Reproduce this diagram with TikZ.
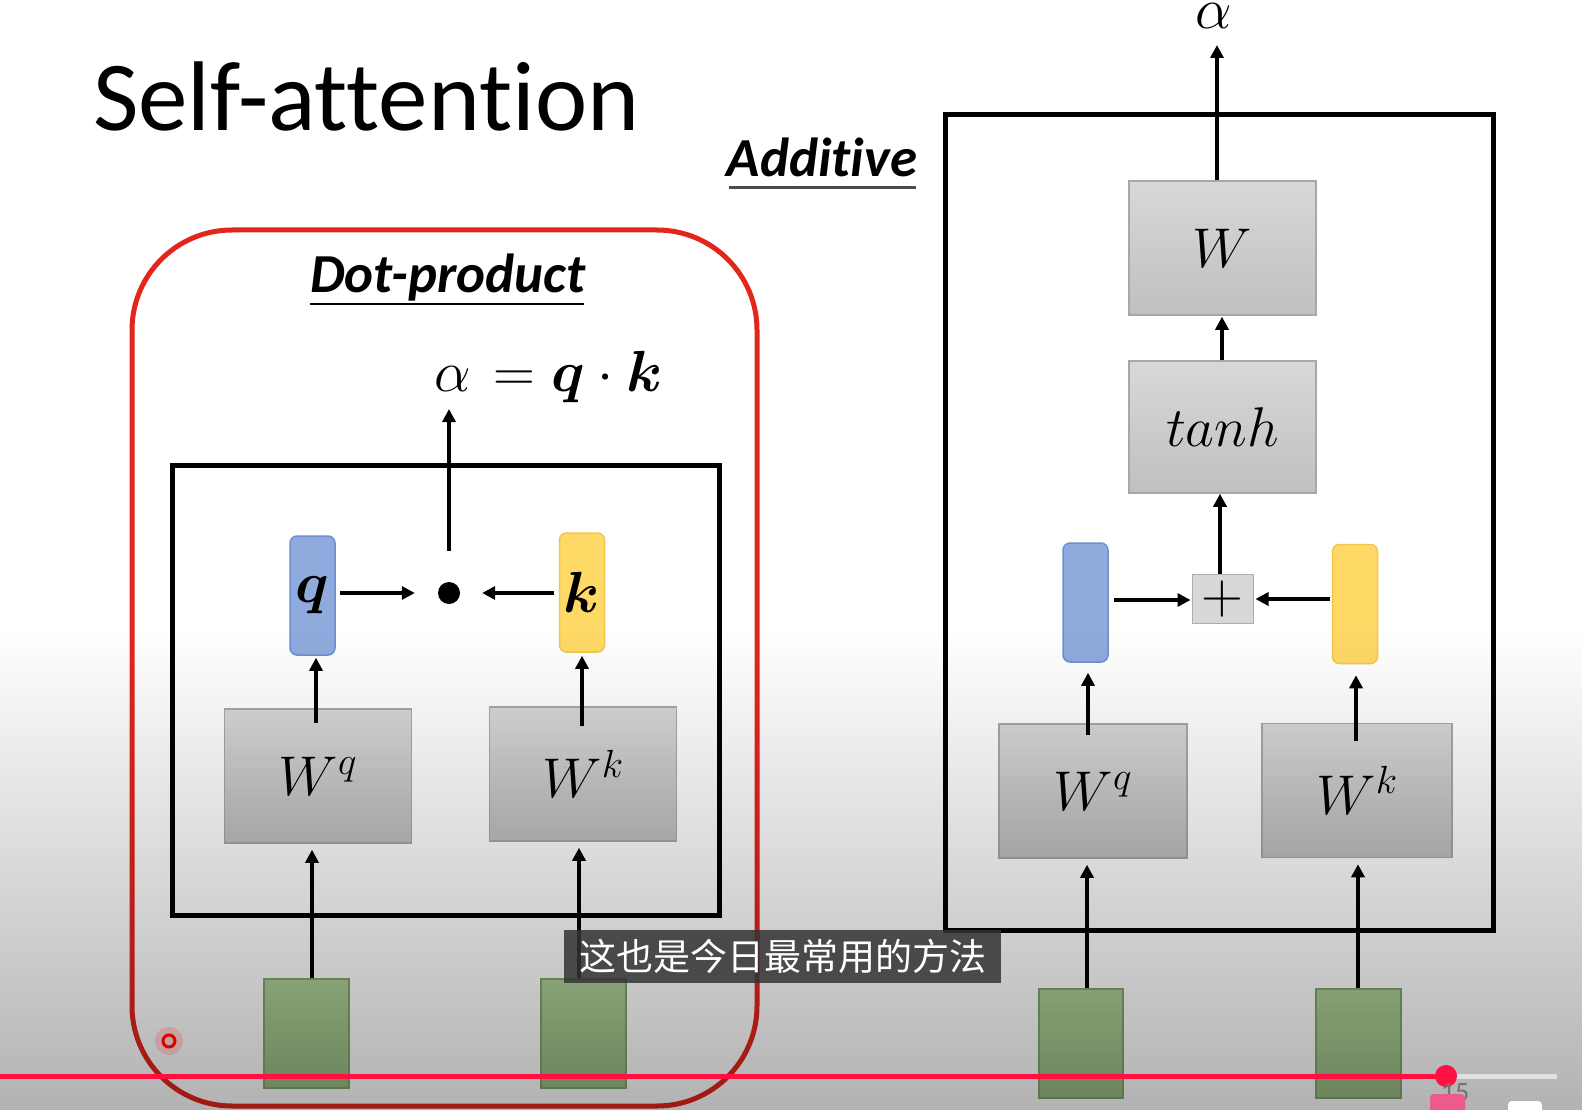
\RequirePackage{fix-cm}
\documentclass[tikz,border=0pt]{standalone}
\usepackage{amsmath}
\usepackage{fontspec}
\setmainfont{Carlito}[Ligatures={NoCommon}]
\newfontfamily\cjk{Noto Sans CJK SC}
\usetikzlibrary{arrows.meta,fadings,calc}
\definecolor{redc}{HTML}{E3261C}
\definecolor{grayT}{HTML}{D8D8D8}
\definecolor{grayB}{HTML}{C0C0C0}
\definecolor{grayD}{HTML}{A8A8A8}
\definecolor{blueF}{HTML}{8FAADC}
\definecolor{blueD}{HTML}{6F8FCF}
\definecolor{yelF}{HTML}{FFD966}
\definecolor{yelD}{HTML}{F2C64A}
\definecolor{grnT}{HTML}{AECF98}
\definecolor{grnB}{HTML}{9ABD84}
\definecolor{grnD}{HTML}{80A66B}
\definecolor{ytred}{HTML}{FF1040}
\definecolor{pinkc}{HTML}{EE5A8E}
\tikzfading[name=fadedown, top color=transparent!100, bottom color=transparent!0]
\tikzset{
  arr/.style={line width=4pt, -{Triangle[length=13pt,width=13pt]}},
  graybox/.style={draw=grayD, line width=1.5pt, top color=grayT, bottom color=grayB,
    minimum width=187pt, minimum height=134pt, inner sep=0pt, font=\fontsize{56}{60}\selectfont},
  vecbox/.style={line width=1.5pt, rounded corners=7pt, minimum width=45pt, minimum height=119pt,
    inner sep=0pt, font=\fontsize{58}{62}\selectfont},
  bluebox/.style={vecbox, draw=blueD, fill=blueF},
  yellowbox/.style={vecbox, draw=yelD, fill=yelF},
  greenbox/.style={draw=grnD, line width=1.5pt, top color=grnT, bottom color=grnB,
    minimum width=85pt, minimum height=109pt, inner sep=0pt},
  plusbox/.style={draw=grayT!80!black, line width=1pt, fill=grayT, minimum width=61pt,
    minimum height=49pt, inner sep=0pt, font=\fontsize{58}{60}\selectfont},
  heading/.style={anchor=base, inner sep=0pt, font=\fontsize{55}{60}\selectfont\bfseries\itshape},
  mathlbl/.style={inner sep=0pt, font=\fontsize{58}{62}\selectfont},
}
\begin{document}
\begin{tikzpicture}[x=1pt,y=-1pt]
\useasboundingbox (0,0) rectangle (1585,1110);
\clip (0,0) rectangle (1585,1110);
\fill[white] (0,0) rectangle (1585,1110);

% title
\node[anchor=base west, inner sep=0pt, font=\fontsize{99}{110}\selectfont] (title) at (93,131) {Self-attention};

% ---------- Dot-product ----------
\draw[redc, line width=5pt, rounded corners=100pt] (132,230) rectangle (757,1106);
\node[heading] (dp) at (448,292) {Dot-product};
\draw[line width=2pt] (310,304) -- (584,304);
\draw[line width=5pt] (172,465) rectangle (719,915);

\node[mathlbl, anchor=base west] (eq) at (434,391) {$\alpha\mkern2mu=\boldsymbol{q}\cdot\boldsymbol{k}$};
\coordinate (atip) at (449,409);

\node[bluebox] (q1) at (312.5,595.5) {$\boldsymbol{q}$};
\node[yellowbox] (k1) at (582,592.5) {$\boldsymbol{k}$};
\node[circle, fill=black, minimum size=22pt, inner sep=0pt] (dot) at (449,593) {};
\node[graybox] (wq1) at (318,776) {$W^q$};
\node[graybox] (wk1) at (583,774) {$W^k$};
\node[greenbox] (g1) at (306.5,1033.5) {};
\node[greenbox] (g2) at (583.5,1033.5) {};

\coordinate (xa) at (316,0);
\coordinate (xb) at (582,0);
\coordinate (xc) at (312,0);
\coordinate (xd) at (579,0);
\draw[arr] ([yshift=31pt]dot.north) -- (atip);
\draw[arr] ([xshift=4pt]q1.east |- dot) -- ([xshift=-23pt]dot.west);
\draw[arr] ([xshift=-5pt]k1.west |- dot) -- ([xshift=22pt]dot.east);
\draw[arr] ([yshift=-15pt]wq1.north -| xa) -- ([yshift=-2pt]q1.south -| xa);
\draw[arr] ([yshift=-20pt]wk1.north -| xb) -- ([yshift=-3pt]k1.south -| xb);
\draw[arr] (g1.north -| xc) -- ([yshift=-6pt]wq1.south -| xc);
\draw[arr] (g2.north -| xd) -- ([yshift=-6pt]wk1.south -| xd);

% ---------- Additive ----------
\node[heading] (add) at (822,177) {Additive};
\draw[line width=3pt, black!70] (729,188) -- (916,188);
\draw[line width=5pt] (945,115) rectangle (1493,930);

\node[mathlbl, anchor=base] (alpha2) at (1214,29) {$\alpha$};
\node[graybox] (W) at (1222.5,248) {$W$};
\node[graybox, minimum height=132pt] (tanh) at (1222.5,427) {$tanh$};
\node[plusbox] (plus) at (1222.5,598.5) {$+$};
\node[bluebox] (q2) at (1085.5,602.5) {};
\node[yellowbox] (k2) at (1355,604) {};
\node[graybox, minimum width=188pt] (wq2) at (1093,791) {$W^q$};
\node[graybox, minimum width=190pt] (wk2) at (1357,790.5) {$W^k$};
\node[greenbox, minimum width=84pt] (g3) at (1081,1043.5) {};
\node[greenbox, minimum width=85pt] (g4) at (1358.5,1043.5) {};

\coordinate (xe) at (1217,0);
\coordinate (xf) at (1222,0);
\coordinate (xg) at (1220,0);
\coordinate (xh) at (1088,0);
\coordinate (xi) at (1356,0);
\coordinate (xj) at (1087,0);
\coordinate (xk) at (1358,0);
\coordinate (y1) at (0,600);
\coordinate (y2) at (0,599);
\coordinate (atip2) at (1217,45);
\draw[arr] (W.north -| xe) -- (atip2);
\draw[arr] (tanh.north -| xf) -- ([yshift=-1pt]W.south -| xf);
\draw[arr] (plus.north -| xg) -- (tanh.south -| xg);
\draw[arr] ([xshift=5pt]q2.east |- y1) -- ([xshift=-1pt]plus.west |- y1);
\draw[arr] ([xshift=-2pt]k2.west |- y2) -- ([xshift=2pt]plus.east |- y2);
\draw[arr] ([yshift=-12pt]wq2.north -| xh) -- ([yshift=-10pt]q2.south -| xh);
\draw[arr] ([yshift=-18pt]wk2.north -| xi) -- ([yshift=-11pt]k2.south -| xi);
\draw[arr] (g3.north -| xj) -- ([yshift=-6pt]wq2.south -| xj);
\draw[arr] (g4.north -| xk) -- ([yshift=-6pt]wk2.south -| xk);

% ---------- video player shading ----------
\fill[black, fill opacity=0.3, path fading=fadedown] (0,630) rectangle (1585,1110);

% cursor ring
\fill[red, opacity=0.15] (169,1041) circle (14);
\draw[red!85!black, line width=3pt] (169,1041) circle (6);

% subtitle
\node[fill=black!80, fill opacity=0.85, text opacity=1, text=white, minimum width=437pt,
  minimum height=53pt, inner sep=0pt, font=\cjk\fontsize{37}{40}\selectfont] (sub) at (782.5,956.5) {这也是今日最常用的方法};

% progress bar
\draw[black!12, line width=5pt] (1446,1076) -- (1557,1076);
\draw[ytred, line width=5pt] (0,1076) -- (1446,1076);
\node[circle, fill=ytred, minimum size=22pt, inner sep=0pt] (knob) at (1446,1076) {};
\node[text=black!55, font=\fontsize{28}{30}\selectfont, inner sep=0pt] (num) at (1455,1093) {15};
\fill[pinkc, rounded corners=4pt] (1430,1094) rectangle (1465,1120);
\fill[white, rounded corners=4pt] (1508,1101) rectangle (1542,1125);
\end{tikzpicture}
\end{document}
